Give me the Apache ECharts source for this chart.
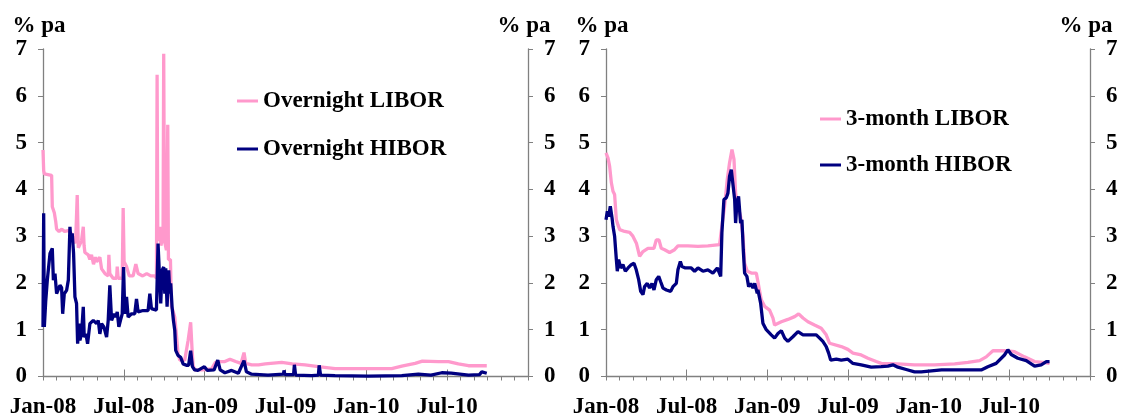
<!DOCTYPE html>
<html>
<head>
<meta charset="utf-8">
<script src="https://cdn.jsdelivr.net/npm/echarts@6/dist/echarts.min.js"></script>
<style>html,body{margin:0;padding:0;background:#fff}#c{width:1123px;height:418px}</style>
</head>
<body>
<div id="c"></div>
<script>
// x values are months since Jan-08
const tickLabels = ['Jan-08','Jul-08','Jan-09','Jul-09','Jan-10','Jul-10'];
const seriesNames = ['Overnight LIBOR','Overnight HIBOR','3-month LIBOR','3-month HIBOR'];
const unitName = '% pa';

const onLiborT = [0,0.05,0.1,0.64,0.69,0.84,0.95,1.01,1.19,1.4,1.6,1.88,2.12,2.3,2.42,2.54,2.62,2.74,2.86,2.99,3.05,3.11,3.36,3.48,3.6,3.75,3.9,3.98,4.22,4.35,4.6,4.84,4.89,4.96,5.2,5.46,5.51,5.58,5.88,5.95,6.02,6.2,6.4,6.69,6.89,7.06,7.4,7.7,8.0,8.3,8.42,8.47,8.52,8.6,8.67,8.75,8.84,8.91,8.96,9.02,9.16,9.26,9.31,9.46,9.53,9.65,9.78,9.9,10.02,10.15,10.52,10.77,10.96,11.06,11.14,11.26,11.8,12.5,12.8,13.02,13.5,13.88,14.3,14.7,14.92,15.05,15.49,16.0,16.5,17.72,18.5,19.45,20.44,21.68,24.15,25.88,26.63,27.62,28.16,29.35,30.1,30.83,31.58,32.94];
const onLiborV = [4.84,4.4,4.33,4.3,3.63,3.5,3.3,3.15,3.1,3.15,3.1,3.12,3.05,2.9,2.85,3.88,2.75,2.72,2.9,3.2,2.8,2.65,2.6,2.5,2.6,2.4,2.55,2.45,2.55,2.3,2.2,2.15,2.6,2.2,2.1,2.1,2.35,2.1,2.1,3.6,2.45,2.35,2.15,2.15,2.4,2.2,2.15,2.2,2.15,2.15,2.1,6.45,3.0,2.9,3.2,2.8,2.9,3.0,6.9,2.9,2.7,5.38,2.5,2.5,1.5,1.4,1.27,0.9,0.5,0.35,0.35,0.77,1.16,0.6,0.24,0.14,0.14,0.16,0.3,0.32,0.32,0.37,0.32,0.28,0.51,0.28,0.25,0.25,0.27,0.3,0.27,0.25,0.21,0.17,0.17,0.17,0.22,0.28,0.33,0.32,0.32,0.27,0.23,0.23];

const onHiborT = [0,0.05,0.1,0.2,0.32,0.52,0.69,0.77,0.89,1.01,1.26,1.38,1.46,1.58,1.75,1.88,2.0,2.07,2.17,2.27,2.37,2.49,2.57,2.67,2.74,2.86,2.99,3.06,3.19,3.31,3.48,3.73,3.98,4.1,4.22,4.35,4.52,4.72,4.84,4.96,5.09,5.28,5.41,5.51,5.63,5.75,5.88,5.98,6.07,6.2,6.32,6.57,6.81,6.94,7.06,7.43,7.8,7.93,8.05,8.42,8.54,8.67,8.74,8.84,8.96,9.04,9.11,9.21,9.33,9.41,9.48,9.58,9.68,9.78,9.85,10.02,10.22,10.4,10.64,10.81,10.96,11.09,11.26,11.5,11.98,12.2,12.7,12.97,13.15,13.5,14.0,14.5,14.92,15.1,15.49,16.7,17.85,17.89,17.95,18.6,18.66,18.75,19.95,20.44,20.5,20.6,21.68,24.15,26.63,27.86,28.8,29.6,30.3,31.58,32.4,32.57,32.94];
const onHiborV = [1.06,3.49,1.06,1.6,2.06,2.63,2.74,2.06,2.2,1.77,1.95,1.9,1.34,1.77,1.84,2.06,3.2,2.91,3.06,2.63,1.7,1.56,0.7,1.13,0.77,0.91,1.49,0.84,0.91,0.7,1.13,1.2,1.13,1.2,0.91,1.13,1.06,0.84,1.2,1.95,1.2,1.34,1.27,1.38,1.06,1.2,1.34,2.34,1.34,1.7,1.27,1.34,1.34,1.66,1.38,1.41,1.41,1.77,1.45,1.42,2.84,1.99,1.56,2.27,2.34,1.77,2.31,1.49,2.27,1.77,1.99,1.49,1.2,0.99,0.56,0.45,0.41,0.27,0.24,0.24,0.55,0.21,0.14,0.13,0.21,0.13,0.14,0.35,0.14,0.08,0.13,0.07,0.34,0.1,0.05,0.03,0.05,0.13,0.04,0.04,0.25,0.03,0.02,0.03,0.24,0.03,0.02,0.01,0.02,0.05,0.03,0.08,0.07,0.03,0.04,0.1,0.07];

const m3LiborT = [0,0.15,0.27,0.4,0.52,0.64,0.77,0.89,1.02,1.39,1.76,2.0,2.26,2.5,2.75,3.12,3.57,3.74,3.94,4.11,4.36,4.73,5.1,5.35,6.1,6.84,7.58,8.45,8.62,8.82,9.02,9.19,9.37,9.52,9.64,9.81,10.01,10.19,10.31,10.51,10.81,11.18,11.55,11.8,12.17,12.42,12.54,13.04,13.53,14.03,14.33,14.65,15.02,15.51,16.01,16.38,16.63,16.75,17.5,17.99,18.37,18.98,19.48,20.1,20.47,21.71,22.95,24.44,25.93,26.92,27.79,28.28,28.78,29.64,30.39,31.13,31.88,32.5,32.99];
const m3LiborV = [4.78,4.67,4.49,4.14,3.96,3.89,3.35,3.24,3.14,3.1,3.08,3.0,2.85,2.57,2.67,2.74,2.74,2.92,2.92,2.74,2.71,2.65,2.71,2.79,2.79,2.78,2.79,2.82,3.21,3.64,4.21,4.57,4.85,4.64,3.92,3.64,3.42,3.0,2.42,2.25,2.21,2.21,1.64,1.5,1.42,1.25,1.1,1.17,1.22,1.28,1.34,1.25,1.17,1.1,1.03,0.89,0.71,0.67,0.64,0.58,0.5,0.46,0.39,0.32,0.28,0.27,0.25,0.25,0.27,0.3,0.34,0.42,0.55,0.55,0.53,0.42,0.32,0.3,0.28];

const m3HiborT = [0,0.1,0.2,0.32,0.45,0.52,0.64,0.77,0.84,0.94,1.09,1.26,1.44,1.64,1.88,2.08,2.25,2.43,2.58,2.75,2.87,3.07,3.24,3.42,3.57,3.74,3.92,4.06,4.24,4.49,4.81,4.98,5.23,5.35,5.53,5.65,5.9,6.34,6.59,6.84,7.21,7.58,7.95,8.28,8.53,8.62,8.77,8.95,9.07,9.19,9.32,9.44,9.57,9.64,9.74,9.86,10.01,10.11,10.21,10.31,10.48,10.61,10.76,10.93,11.06,11.25,11.3,11.5,11.67,11.92,12.29,12.54,12.79,13.04,13.29,13.53,13.9,14.28,14.65,15.14,15.64,15.89,16.13,16.38,16.56,16.71,17.13,17.5,17.99,18.37,18.98,19.73,20.47,20.97,21.34,21.71,22.33,22.95,23.45,23.57,24.96,26.92,27.91,28.4,29.02,29.64,29.89,30.14,30.63,31.26,31.88,32.37,32.75,32.99];
const m3HiborV = [3.35,3.53,3.42,3.64,3.39,3.21,3.0,2.5,2.25,2.5,2.32,2.39,2.25,2.32,2.39,2.42,2.28,2.07,1.82,1.75,1.92,1.99,1.89,1.99,1.85,2.07,2.14,2.03,1.89,1.85,1.82,1.92,1.99,2.28,2.46,2.35,2.32,2.32,2.25,2.32,2.25,2.28,2.21,2.32,2.14,3.07,3.78,3.82,3.92,4.28,4.42,4.46,3.78,3.28,3.71,3.85,3.28,3.35,2.71,2.21,2.14,1.92,1.99,1.89,1.99,1.78,1.85,1.57,1.14,1.0,0.89,0.82,0.92,0.98,0.82,0.75,0.85,0.96,0.89,0.89,0.89,0.82,0.75,0.64,0.5,0.35,0.37,0.35,0.37,0.28,0.25,0.2,0.21,0.22,0.25,0.2,0.15,0.1,0.1,0.14,0.14,0.14,0.14,0.21,0.28,0.46,0.57,0.47,0.39,0.34,0.22,0.25,0.32,0.32];

const zip = (t, v) => t.map((x, i) => [x, v[i]]);

const FONT = "'Liberation Serif','Times New Roman',serif";
const AXC = '#808080';
const PINK = '#FF99CC';
const NAVY = '#000080';
const txt = {fontFamily: FONT, fontWeight: 'bold', fontSize: 23, color: '#000'};

const grids = [
  {left: 43, width: 485, top: 49, height: 327.5, outerBoundsMode: 'none'},
  {left: 606, width: 484, top: 49, height: 327.5, outerBoundsMode: 'none'}
];

const xAxes = [];
const yAxes = [];
[0, 1].forEach(g => {
  xAxes.push({
    type: 'value', gridIndex: g, min: 0, max: 36, interval: 1, position: 'bottom',
    axisLine: {show: true, onZero: false, lineStyle: {color: AXC, width: 1.3}},
    axisTick: {show: true, inside: false, length: 4, lineStyle: {color: AXC}},
    splitLine: {show: false},
    axisLabel: Object.assign({
      margin: 19, showMinLabel: true, showMaxLabel: true,
      formatter: v => (v % 6 === 0 && v / 6 < tickLabels.length) ? tickLabels[v / 6] : ''
    }, txt)
  });
  xAxes.push({
    type: 'value', gridIndex: g, min: 0, max: 36, interval: 6, position: 'bottom',
    axisLine: {show: false, onZero: false},
    axisTick: {show: true, inside: true, length: 7, lineStyle: {color: AXC}},
    splitLine: {show: false}, axisLabel: {show: false}
  });
  ['left', 'right'].forEach(pos => {
    yAxes.push({
      type: 'value', gridIndex: g, position: pos, min: 0, max: 7, interval: 1,
      name: unitName, nameLocation: 'end', nameGap: 11,
      nameTextStyle: Object.assign({padding: [0, 8, 0, 0]}, txt),
      axisLine: {show: true, onZero: false, lineStyle: {color: AXC, width: 1.3}},
      axisTick: {show: true, inside: false, length: 5, lineStyle: {color: AXC}},
      splitLine: {show: false},
      axisLabel: Object.assign({margin: 16}, txt)
    });
  });
});

const lineS = (name, data, color, xi, yi) => ({
  name, type: 'line', data, xAxisIndex: xi, yAxisIndex: yi,
  showSymbol: false, symbol: 'none', smooth: false,
  lineStyle: {color, width: 3.3}, itemStyle: {color}, silent: true
});

const option = {
  animation: false,
  backgroundColor: '#fff',
  grid: grids,
  xAxis: xAxes,
  yAxis: yAxes,
  legend: [
    {data: [seriesNames[0], seriesNames[1]], orient: 'vertical', left: 232, top: 84, itemGap: 24,
     icon: 'rect', itemWidth: 21, itemHeight: 3, itemStyle: {borderWidth: 0},
     textStyle: Object.assign({lineHeight: 24}, txt)},
    {data: [seriesNames[2], seriesNames[3]], orient: 'vertical', left: 815, top: 102, itemGap: 22,
     icon: 'rect', itemWidth: 21, itemHeight: 3, itemStyle: {borderWidth: 0},
     textStyle: Object.assign({lineHeight: 24}, txt)}
  ],
  series: [
    lineS(seriesNames[0], zip(onLiborT, onLiborV), PINK, 0, 0),
    lineS(seriesNames[1], zip(onHiborT, onHiborV), NAVY, 0, 0),
    lineS(seriesNames[2], zip(m3LiborT, m3LiborV), PINK, 2, 2),
    lineS(seriesNames[3], zip(m3HiborT, m3HiborV), NAVY, 2, 2)
  ]
};

const chart = echarts.init(document.getElementById('c'), null, {renderer: 'canvas'});
chart.setOption(option);
</script>
</body>
</html>
